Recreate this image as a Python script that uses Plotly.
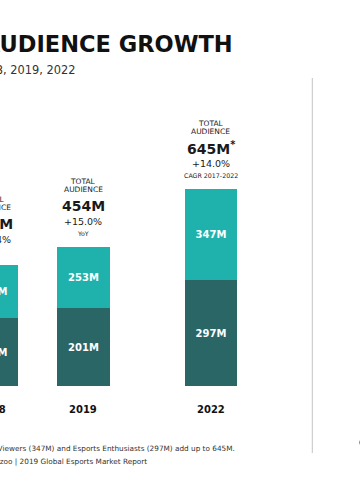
import plotly.graph_objects as go

# ---- data ----
years = ["2018", "2019", "2022"]
dark_segment = [222, 253, 347]          # lower (dark) segment heights, millions
teal_segment = [173, 201, 297]          # upper (teal) segment heights, millions
dark_labels = ["173M", "201M", "297M"]  # labels printed on the dark segments
teal_labels = ["222M", "253M", "347M"]  # labels printed on the teal segments
total_labels = ["395M", "454M", "645M<sup>*</sup>"]
growth_labels = ["+16.4%", "+15.0%", "+14.0%"]
growth_notes = ["YoY", "YoY", "CAGR 2017-2022"]

# ---- layout ----
W, H = 360, 490
slot = [0, 5, 12]             # horizontal slot of each bar
x_range = [0.4386, 20.175]
y_range = [-341.5, 1262.9]
bar_w = 2.884
DARK = "#2b6667"
TEAL = "#1fb2ad"
FONT = "DejaVu Sans"
totals = [d + t for d, t in zip(dark_segment, teal_segment)]


def xfrac(s):
    return (s - x_range[0]) / (x_range[1] - x_range[0])


fig = go.Figure()
fig.add_trace(go.Bar(
    x=slot, y=dark_segment, width=bar_w, marker=dict(color=DARK, line_width=0),
    text=dark_labels, textposition="inside", insidetextanchor="middle",
    textfont=dict(family=FONT, size=10, color="white", weight="bold"),
    hoverinfo="skip"))
fig.add_trace(go.Bar(
    x=slot, y=teal_segment, width=bar_w, marker=dict(color=TEAL, line_width=0),
    text=teal_labels, textposition="inside", insidetextanchor="middle",
    textfont=dict(family=FONT, size=10, color="white", weight="bold"),
    hoverinfo="skip"))

ann = []
for i in range(len(years)):
    xf = xfrac(slot[i])
    rows = [
        ("TOTAL", 7.5, "normal", 65.5),
        ("AUDIENCE", 7.5, "normal", 57.5),
        (total_labels[i], 14, "bold", 41),
        (growth_labels[i], 9.5, "normal", 25.5),
        (growth_notes[i], 6.3, "normal", 13.5),
    ]
    for txt, size, weight, shift in rows:
        ann.append(dict(x=xf, xref="paper", y=totals[i], yref="y", yshift=shift,
                        text=txt, showarrow=False, xanchor="center", yanchor="middle",
                        font=dict(family=FONT, size=size, color="#1a1a1a", weight=weight)))
    ann.append(dict(x=xf, xref="paper", y=0, yref="y", yshift=-24, text=years[i],
                    showarrow=False, xanchor="center", yanchor="middle",
                    font=dict(family=FONT, size=10, color="#111111", weight="bold")))

ann += [
    dict(x=235 / W, y=1 - 44 / H, xref="paper", yref="paper", xanchor="right", yanchor="middle",
         text="GLOBAL ESPORTS AUDIENCE GROWTH", showarrow=False,
         font=dict(family=FONT, size=22.5, color="#111111", weight="bold")),
    dict(x=77 / W, y=1 - 70 / H, xref="paper", yref="paper", xanchor="right", yanchor="middle",
         text="2018, 2019, 2022", showarrow=False,
         font=dict(family=FONT, size=11.4, color="#333333")),
    dict(x=237 / W, y=1 - 448 / H, xref="paper", yref="paper", xanchor="right", yanchor="middle",
         text="*Occasional Viewers (347M) and Esports Enthusiasts (297M) add up to 645M.",
         showarrow=False, font=dict(family=FONT, size=7.3, color="#333333")),
    dict(x=149 / W, y=1 - 461.5 / H, xref="paper", yref="paper", xanchor="right", yanchor="middle",
         text="Source: Newzoo | 2019 Global Esports Market Report",
         showarrow=False, font=dict(family=FONT, size=7.3, color="#333333")),
    dict(x=356.5 / W, y=1 - 443 / H, xref="paper", yref="paper", xanchor="left", yanchor="middle",
         text="C", showarrow=False, font=dict(family=FONT, size=9, color="#1b1b66", weight="bold")),
]

fig.update_layout(
    width=W, height=H, margin=dict(l=0, r=0, t=0, b=0),
    barmode="stack", bargap=0, showlegend=False,
    paper_bgcolor="white", plot_bgcolor="white",
    xaxis=dict(range=x_range, visible=False, fixedrange=True),
    yaxis=dict(range=y_range, visible=False, fixedrange=True),
    annotations=ann,
    shapes=[dict(type="line", xref="paper", yref="paper",
                 x0=312.3 / W, x1=312.3 / W, y0=1 - 78 / H, y1=1 - 453 / H,
                 line=dict(color="#c4c4c4", width=1))],
)
fig.write_html("out.html", config={"displayModeBar": False},
               post_script="document.body.style.margin='0px';document.body.style.overflow='hidden';")
